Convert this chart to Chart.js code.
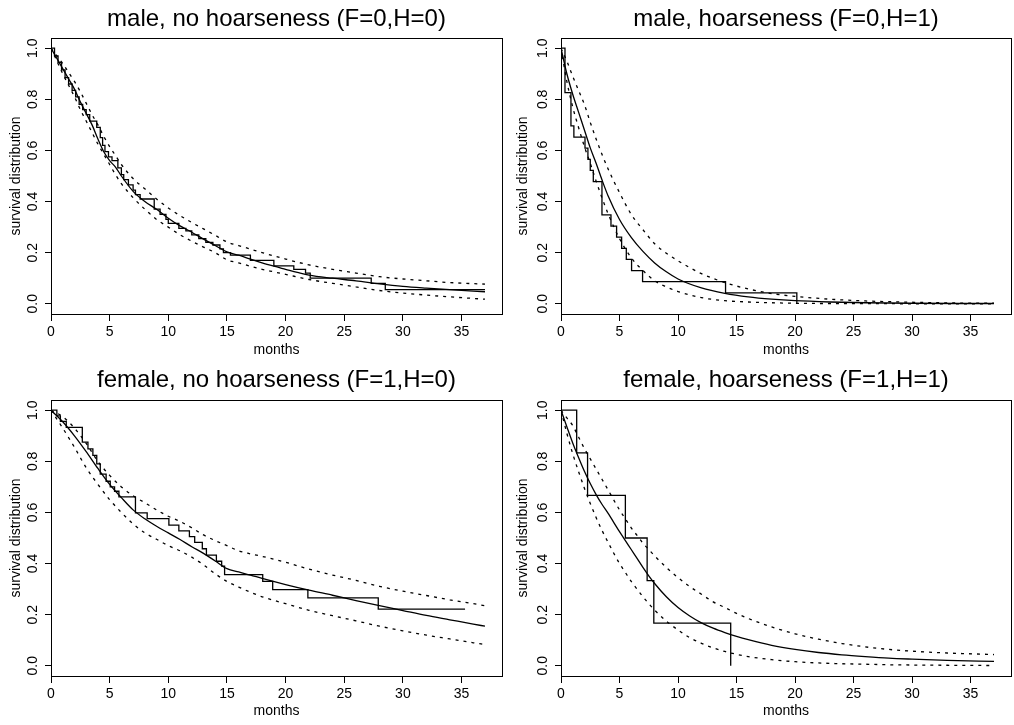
<!DOCTYPE html>
<html>
<head>
<meta charset="utf-8">
<title>survival distribution</title>
<script src="https://cdn.jsdelivr.net/npm/chart.js@4.4.1/dist/chart.umd.min.js"></script>
<style>
  body { margin: 0; background: #fff; }
  #wrap { position: relative; width: 1014px; height: 725px; }
  .panel { position: absolute; }
  canvas { display: block; }
</style>
</head>
<body>
<div id="wrap">
  <div class="panel" style="left:0;top:0"><canvas id="g1" width="507" height="362"></canvas></div>
  <div class="panel" style="left:507px;top:0"><canvas id="g2" width="507" height="362"></canvas></div>
  <div class="panel" style="left:0;top:362px"><canvas id="g3" width="507" height="363"></canvas></div>
  <div class="panel" style="left:507px;top:362px"><canvas id="g4" width="507" height="363"></canvas></div>
</div>
<script>
// ticks
const monthTicks = [0, 5, 10, 15, 20, 25, 30, 35];
const survTicks = [0, 0.2, 0.4, 0.6, 0.8, 1.0];

// male, no hoarseness (F=0,H=0)
const kmTime1 = [0,0.3,0.6,0.9,1.2,1.5,1.8,2.1,2.4,2.7,3.0,3.3,3.9,4.2,4.4,4.6,4.9,5.2,5.7,6.0,6.2,6.6,7.0,7.2,7.6,8.8,9.3,9.8,10.0,10.9,11.5,12.0,12.6,13.2,13.8,14.4,14.7,15.3,17.0,19.0,20.7,21.7,22.1,27.3,28.5,37];
const kmSurv1 = [1,0.97,0.945,0.915,0.885,0.86,0.835,0.81,0.78,0.76,0.74,0.715,0.69,0.65,0.62,0.595,0.575,0.56,0.532,0.505,0.486,0.465,0.445,0.427,0.41,0.37,0.35,0.33,0.315,0.295,0.285,0.27,0.255,0.24,0.23,0.215,0.2,0.19,0.17,0.148,0.135,0.12,0.1,0.08,0.055,0.055];
const grid1 = [0,0.5,1,1.5,2,2.5,3,3.5,4,4.5,5,5.5,6,7,8,9,10,11,12,13,14,15,16,17,18,19,20,21,22,24,26,28,30,32,34,37];
const fit1 = [1,0.96,0.92,0.88,0.84,0.79,0.745,0.7,0.645,0.595,0.56,0.535,0.5,0.44,0.4,0.37,0.335,0.305,0.28,0.253,0.228,0.203,0.19,0.175,0.16,0.147,0.135,0.123,0.112,0.1,0.09,0.078,0.068,0.061,0.055,0.047];
const upper1 = [1,0.97,0.94,0.905,0.87,0.83,0.785,0.74,0.7,0.655,0.615,0.58,0.545,0.49,0.45,0.41,0.375,0.345,0.318,0.293,0.268,0.242,0.228,0.214,0.2,0.187,0.175,0.163,0.152,0.135,0.12,0.106,0.097,0.09,0.083,0.077];
const lower1 = [1,0.95,0.9,0.855,0.81,0.76,0.715,0.67,0.625,0.585,0.545,0.505,0.47,0.415,0.37,0.33,0.3,0.27,0.245,0.222,0.2,0.172,0.16,0.147,0.135,0.125,0.115,0.105,0.095,0.08,0.066,0.052,0.042,0.034,0.027,0.018];

// male, hoarseness (F=0,H=1)
const kmTime2 = [0,0.34,0.85,1.1,2.05,2.3,2.5,2.76,3.5,4.27,4.75,5.18,5.58,6.03,6.97,14.06,20.15];
const kmSurv2 = [1,0.826,0.696,0.652,0.609,0.565,0.522,0.478,0.348,0.304,0.261,0.217,0.174,0.13,0.087,0.043,0];
const grid2 = [0,0.5,1,1.5,2,2.5,3,3.5,4,5,6,7,8,9,10,12,14,16,18,20,23,26,30,34,37];
const fit2 = [1,0.9,0.82,0.75,0.68,0.61,0.55,0.485,0.425,0.33,0.26,0.205,0.16,0.125,0.097,0.062,0.041,0.027,0.018,0.012,0.007,0.004,0.002,0.001,0.001];
const upper2 = [1,0.95,0.89,0.835,0.78,0.71,0.645,0.585,0.53,0.435,0.35,0.29,0.235,0.198,0.168,0.118,0.083,0.058,0.04,0.029,0.018,0.011,0.006,0.003,0.002];
const lower2 = [1,0.87,0.77,0.69,0.615,0.55,0.48,0.415,0.355,0.255,0.18,0.13,0.09,0.066,0.048,0.024,0.012,0.007,0.004,0.002,0.001,0.001,0,0,0];

// female, no hoarseness (F=1,H=0)
const kmTime3 = [0,0.5,0.8,1.3,2.67,3.15,3.57,3.9,4.2,4.7,5.05,5.42,5.79,7.2,8.2,10.05,10.9,11.8,12.25,12.9,13.25,14.1,14.55,14.8,18.05,18.9,21.9,27.9,35.3];
const kmSurv3 = [1,0.978,0.956,0.933,0.875,0.849,0.823,0.79,0.75,0.722,0.7,0.683,0.661,0.598,0.576,0.55,0.528,0.505,0.483,0.458,0.433,0.409,0.39,0.357,0.33,0.298,0.266,0.222,0.222];
const grid3 = [0,1,2,3,4,5,6,7,8,9,10,11,12,13,14,15,16,17,18,20,22,24,26,28,30,32,34,36,37];
const fit3 = [1,0.955,0.9,0.838,0.772,0.71,0.658,0.61,0.575,0.546,0.52,0.494,0.466,0.44,0.41,0.38,0.367,0.355,0.342,0.318,0.296,0.276,0.255,0.235,0.216,0.197,0.18,0.163,0.155];
const upper3 = [1,0.975,0.93,0.87,0.8,0.745,0.7,0.665,0.638,0.61,0.585,0.565,0.54,0.512,0.49,0.47,0.45,0.438,0.428,0.405,0.378,0.355,0.334,0.311,0.292,0.275,0.258,0.243,0.235];
const lower3 = [1,0.93,0.855,0.775,0.71,0.65,0.6,0.555,0.52,0.495,0.47,0.45,0.425,0.395,0.36,0.33,0.308,0.288,0.27,0.243,0.217,0.196,0.176,0.155,0.137,0.12,0.105,0.09,0.083];

// female, hoarseness (F=1,H=1)
const kmTime4 = [0,1.34,2.27,5.5,7.36,7.93,14.5];
const kmSurv4 = [1,0.833,0.667,0.5,0.333,0.167,0];
const grid4 = [0,0.5,1,1.5,2,2.5,3,3.5,4,5,5.5,6,6.5,7,7.5,8,9,10,11,12,13,14,15,16,18,20,22,24,26,28,30,33,37];
const fit4 = [1,0.935,0.872,0.815,0.761,0.713,0.67,0.632,0.598,0.525,0.49,0.455,0.42,0.385,0.352,0.322,0.27,0.228,0.195,0.168,0.147,0.13,0.115,0.102,0.08,0.064,0.052,0.043,0.036,0.03,0.026,0.021,0.017];
const upper4 = [1,0.97,0.94,0.895,0.85,0.81,0.77,0.73,0.69,0.61,0.575,0.54,0.51,0.48,0.455,0.43,0.385,0.345,0.31,0.28,0.25,0.228,0.205,0.185,0.152,0.125,0.104,0.087,0.074,0.064,0.057,0.05,0.044];
const lower4 = [1,0.91,0.83,0.76,0.695,0.635,0.58,0.53,0.485,0.4,0.365,0.33,0.3,0.27,0.243,0.218,0.175,0.14,0.11,0.088,0.07,0.056,0.045,0.036,0.024,0.016,0.011,0.008,0.006,0.004,0.003,0.002,0.001];

Chart.defaults.font.family = '"Liberation Sans", Arial, sans-serif';
Chart.defaults.color = '#000';

// title drawn over the plot box centre, like R's main=
const panelTitle = {
  id: 'panelTitle',
  afterDraw(chart, args, opts) {
    const {ctx, chartArea} = chart;
    ctx.save();
    ctx.font = '24px "Liberation Sans", Arial, sans-serif';
    ctx.fillStyle = '#000';
    ctx.textAlign = 'center';
    ctx.textBaseline = 'alphabetic';
    ctx.fillText(opts.text, (chartArea.left + chartArea.right) / 2, opts.y);
    ctx.restore();
  }
};

// box round the plot region
const frame = {
  id: 'frame',
  afterDraw(chart) {
    const {ctx, chartArea: a} = chart;
    ctx.save();
    ctx.strokeStyle = '#000';
    ctx.lineWidth = 1;
    ctx.strokeRect(Math.round(a.left) + 0.5, Math.round(a.top) + 0.5, Math.round(a.right - a.left), Math.round(a.bottom - a.top));
    ctx.restore();
  }
};

function pts(xs, ys) {
  return xs.map((x, i) => ({x: x, y: ys[i]}));
}

function makePanel(id, title, kmT, kmS, grid, fit, up, lo, lay) {
  const line = {borderColor: '#000', borderWidth: 1.3, pointRadius: 0, fill: false};
  const dotted = Object.assign({}, line, {borderDash: [3, 5], cubicInterpolationMode: 'monotone'});
  return new Chart(document.getElementById(id).getContext('2d'), {
    type: 'line',
    data: {
      datasets: [
        Object.assign({}, line, {label: 'Kaplan-Meier', data: pts(kmT, kmS), stepped: true}),
        Object.assign({}, line, {label: 'fit', data: pts(grid, fit), cubicInterpolationMode: 'monotone'}),
        Object.assign({}, dotted, {label: 'upper', data: pts(grid, up)}),
        Object.assign({}, dotted, {label: 'lower', data: pts(grid, lo)})
      ]
    },
    options: {
      responsive: false,
      animation: false,
      events: [],
      layout: {padding: {top: 38, right: lay.padRight, left: 0, bottom: 0}},
      plugins: {
        legend: {display: false},
        tooltip: {enabled: false},
        panelTitle: {text: title, y: lay.titleY}
      },
      scales: {
        x: {
          type: 'linear',
          min: 0,
          max: 38.45,
          afterBuildTicks: s => { s.ticks = monthTicks.map(v => ({value: v})); },
          afterFit: s => { s.height = lay.xHeight; },
          grid: {drawOnChartArea: false, tickLength: 7, color: '#000'},
          border: {display: false},
          ticks: {font: {size: 14}, padding: 3, maxRotation: 0, color: '#000'},
          title: {display: true, text: 'months', font: {size: 14}, padding: {top: 0, bottom: lay.monthsPad}, color: '#000'}
        },
        y: {
          type: 'linear',
          min: -0.04,
          max: 1.04,
          afterBuildTicks: s => { s.ticks = survTicks.map(v => ({value: v})); },
          afterFit: s => { s.width = lay.yWidth; },
          grid: {drawOnChartArea: false, tickLength: 6, color: '#000'},
          border: {display: false},
          ticks: {font: {size: 14}, padding: 2, minRotation: 90, maxRotation: 90, crossAlign: 'center',
                  callback: v => v.toFixed(1), color: '#000'},
          title: {display: true, text: 'survival distribution', font: {size: 14}, padding: {top: 8, bottom: 0}, color: '#000'}
        }
      }
    },
    plugins: [panelTitle, frame]
  });
}

makePanel('g1', 'male, no hoarseness (F=0,H=0)', kmTime1, kmSurv1, grid1, fit1, upper1, lower1,
  {yWidth: 51, padRight: 5, xHeight: 48, titleY: 26, monthsPad: 3});
makePanel('g2', 'male, hoarseness (F=0,H=1)', kmTime2, kmSurv2, grid2, fit2, upper2, lower2,
  {yWidth: 54, padRight: 3, xHeight: 48, titleY: 26, monthsPad: 3});
makePanel('g3', 'female, no hoarseness (F=1,H=0)', kmTime3, kmSurv3, grid3, fit3, upper3, lower3,
  {yWidth: 51, padRight: 5, xHeight: 49, titleY: 25, monthsPad: 5});
makePanel('g4', 'female, hoarseness (F=1,H=1)', kmTime4, kmSurv4, grid4, fit4, upper4, lower4,
  {yWidth: 54, padRight: 3, xHeight: 49, titleY: 25, monthsPad: 5});
</script>
</body>
</html>
